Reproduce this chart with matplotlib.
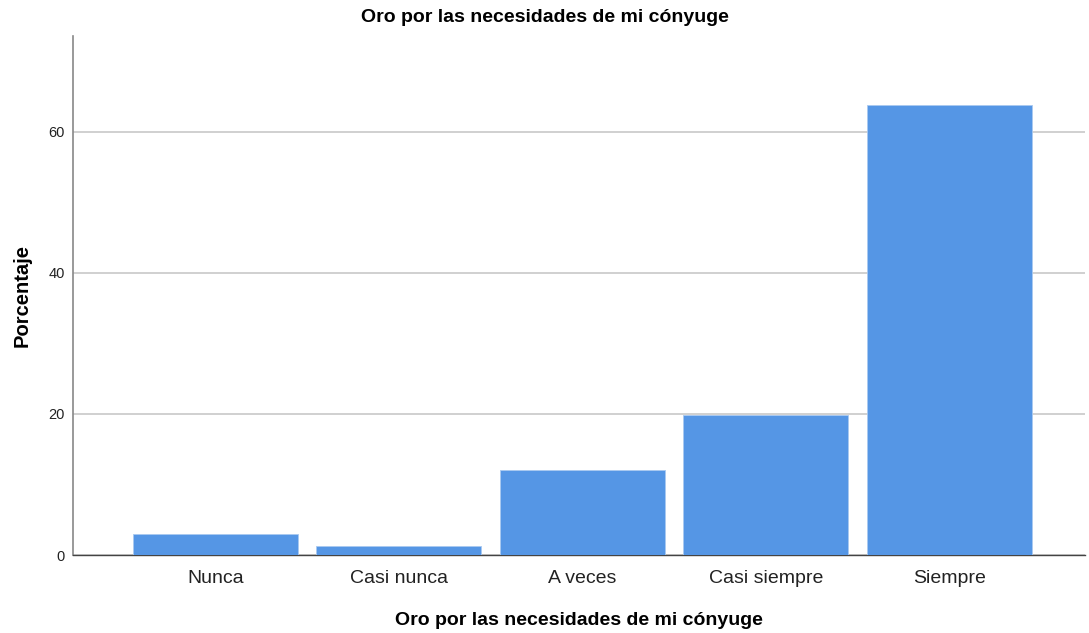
import matplotlib
matplotlib.use("Agg")
import matplotlib.pyplot as plt

categories = ["Nunca", "Casi nunca", "A veces", "Casi siempre", "Siempre"]
percentages = [3.0, 1.3, 12.0, 19.9, 63.8]
yticks = [0, 20, 40, 60]
title = "Oro por las necesidades de mi cónyuge"

plt.rcParams['font.family'] = ['Liberation Sans', 'DejaVu Sans']

fig = plt.figure(figsize=(10.89, 6.33), dpi=100)
ax = fig.add_axes([0.067, 0.1232, 0.9293, 0.8198])

x = list(range(len(categories)))
ax.bar(x, percentages, width=0.9, color="#5596e5", edgecolor="#a9c9f0", linewidth=0.6, zorder=3)

ax.set_xlim(-0.777, 4.74)
ax.set_ylim(0, 73.6)
ax.set_yticks(yticks)
ax.set_yticklabels([str(t) for t in yticks], fontsize=10.5, color="#222222")
ax.set_xticks(x)
ax.set_xticklabels(categories, fontsize=14, color="#222222")
ax.tick_params(axis='both', length=0)
ax.tick_params(axis='y', pad=6)
ax.tick_params(axis='x', pad=11)
ax.yaxis.grid(True, color="#c8c8c8", linewidth=1.2, zorder=0)
ax.set_axisbelow(True)

for s in ["top", "right"]:
    ax.spines[s].set_visible(False)
ax.spines["left"].set_color("#888888")
ax.spines["left"].set_linewidth(1.2)
ax.spines["bottom"].set_color("#444444")
ax.spines["bottom"].set_linewidth(1.0)

ax.set_xlabel(title, fontsize=14, fontweight="bold", labelpad=18)
ax.set_ylabel("Porcentaje", fontsize=14.5, fontweight="bold", labelpad=12)
fig.text(0.5, 0.9716, title, ha="center", va="center", fontsize=14, fontweight="bold")

fig.savefig("out.png", dpi=100)
